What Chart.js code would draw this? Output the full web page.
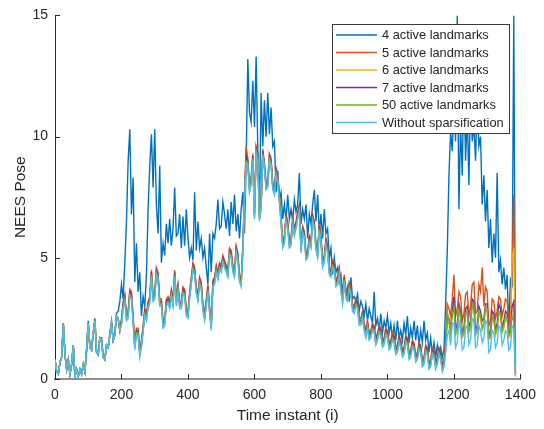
<!DOCTYPE html>
<html>
<head>
<meta charset="utf-8">
<script src="https://cdn.jsdelivr.net/npm/chart.js@4.4.0/dist/chart.umd.min.js"></script>
<style>
html,body{margin:0;padding:0;background:#fff;}
#c{display:block;}
</style>
</head>
<body>
<canvas id="c" width="544" height="429"></canvas>
<script>
const timeInstants = [
0,5,10,15,20,25,30,35,40,45,50,55,60,65,70,75,80,85,90,95,
100,105,110,115,120,125,130,135,140,145,150,155,160,165,170,175,180,185,190,195,
200,205,210,215,220,225,230,235,240,245,250,255,260,265,270,275,280,285,290,295,
300,305,310,315,320,325,330,335,340,345,350,355,360,365,370,375,380,385,390,395,
400,405,410,415,420,425,430,435,440,445,450,455,460,465,470,475,480,485,490,495,
500,505,510,515,520,525,530,535,540,545,550,555,560,565,570,575,580,585,590,595,
600,605,610,615,620,625,630,635,640,645,650,655,660,665,670,675,680,685,690,695,
700,705,710,715,720,725,730,735,740,745,750,755,760,765,770,775,780,785,790,795,
800,805,810,815,820,825,830,835,840,845,850,855,860,865,870,875,880,885,890,895,
900,905,910,915,920,925,930,935,940,945,950,955,960,965,970,975,980,985,990,995,
1000,1005,1010,1015,1020,1025,1030,1035,1040,1045,1050,1055,1060,1065,1070,1075,1080,1085,1090,1095,
1100,1105,1110,1115,1120,1125,1130,1135,1140,1145,1150,1155,1160,1165,1170,1175,1180,1185,1190,1195,
1200,1205,1210,1215,1220,1225,1230,1235,1240,1245,1250,1255,1260,1265,1270,1275,1280,1285,1290,1295,
1300,1305,1310,1315,1320,1325,1330,1335,1340,1345,1350,1355,1360,1365,1370,1375,1380,1385];

const active4 = [
0.8,0.3,0.2,0.7,0.9,2.3,1.0,0.4,0.8,0.2,0.6,1.4,0.1,0.4,0.1,0.4,0.2,0.6,0.3,1.2,
2.4,1.3,1.2,1.9,2.5,1.1,1.0,1.7,1.7,0.9,0.8,1.4,1.3,1.9,2.4,1.6,1.9,2.7,2.8,3.2,
3.9,3.3,4.8,6.5,9.0,10.3,6.8,8.3,4.0,5.6,3.6,4.4,2.6,3.4,3.0,4.3,7.0,8.8,10.1,7.9,
10.3,7.2,6.0,8.8,4.8,5.6,5.1,6.4,5.6,6.6,5.5,6.2,7.9,5.9,6.0,6.8,5.4,6.7,5.5,7.0,
5.8,5.0,5.4,4.9,7.7,5.3,6.5,5.4,5.8,5.0,5.4,4.6,3.9,6.0,4.4,6.0,5.8,6.4,7.4,6.2,
6.3,7.3,6.8,6.2,7.0,5.9,7.3,6.4,7.6,6.1,6.8,5.8,7.0,7.7,6.0,9.0,13.2,11.0,10.6,12.3,
10.4,13.3,9.5,6.8,11.8,9.6,11.5,10.0,11.8,10.1,11.2,9.6,9.8,7.7,8.6,7.4,7.7,6.6,7.2,6.5,
7.6,6.6,7.0,6.5,7.4,6.9,7.2,8.5,6.4,7.0,6.6,7.2,5.8,6.8,6.4,7.2,7.8,6.5,7.6,6.0,
6.8,5.8,7.0,6.0,6.2,5.0,5.4,4.3,5.0,4.4,4.6,4.0,4.3,3.6,4.1,3.5,3.8,3.2,4.2,3.3,
3.4,3.2,3.5,2.8,3.2,3.0,2.6,3.1,2.4,2.9,2.6,2.3,3.6,2.2,2.5,2.0,2.7,1.9,2.4,2.1,
2.6,1.9,2.3,1.7,2.2,1.6,2.4,1.7,2.0,1.6,2.3,1.8,2.6,1.5,2.1,1.7,2.4,1.6,2.2,1.4,
2.0,1.5,2.4,1.6,1.9,1.1,1.7,1.0,1.5,0.9,1.4,1.0,1.3,0.9,1.2,3.1,5.3,8.4,10.2,9.4,
11.4,9.8,15.0,7.0,10.5,8.4,12.5,9.0,11.0,8.0,12.0,9.8,10.5,9.0,11.5,9.6,10.0,7.2,8.4,6.5,
7.8,5.4,6.6,4.8,6.0,5.0,8.5,4.4,4.9,3.9,4.6,3.7,4.3,2.0,4.1,3.9,15.0,0.6];

const active5 = [
0.8,0.3,0.2,0.7,0.9,2.3,1.0,0.4,0.8,0.2,0.6,1.4,0.1,0.4,0.1,0.4,0.2,0.6,0.3,1.2,
2.3,1.3,1.2,1.9,2.4,1.1,1.0,1.7,1.6,0.9,0.8,1.4,1.3,1.8,2.3,1.6,1.8,2.6,2.5,2.0,
2.5,3.2,3.5,2.7,2.8,3.7,3.6,2.6,1.5,2.1,2.1,1.2,1.6,2.2,2.9,2.7,3.2,3.4,4.5,3.5,
3.6,4.6,4.4,3.3,3.3,2.4,2.5,3.3,3.4,3.2,3.7,3.3,4.5,3.3,3.9,3.2,3.2,3.8,3.7,2.9,
2.8,3.6,4.2,4.8,4.6,3.8,3.5,4.2,4.0,3.1,2.7,3.3,3.9,3.0,2.3,4.1,4.2,4.7,4.4,4.8,
4.7,5.1,4.9,4.7,4.5,5.4,5.3,4.7,4.5,5.5,5.2,4.3,4.1,5.5,7.7,9.6,9.1,8.0,8.3,9.3,
6.9,9.6,9.3,6.8,7.3,9.5,8.9,8.1,8.2,9.3,9.1,8.1,7.9,8.7,8.4,7.6,6.7,5.7,5.9,6.8,
6.5,5.7,5.8,6.7,6.2,6.5,6.9,7.2,5.5,6.3,6.1,5.2,5.3,5.9,5.7,6.8,6.5,5.6,5.3,6.4,
5.9,4.9,5.1,5.8,5.5,4.6,4.5,4.9,4.8,4.1,4.2,4.6,3.9,3.4,4.3,3.6,3.5,4.0,3.8,3.1,
3.0,3.3,3.2,2.5,2.5,2.8,2.3,2.0,2.4,1.9,2.0,2.3,2.2,1.7,1.9,2.2,2.1,1.6,1.7,2.1,
2.0,1.5,1.6,1.9,1.8,1.3,1.4,1.8,1.6,1.2,1.3,1.8,1.7,1.1,1.2,1.6,1.5,1.0,1.1,1.5,
1.4,0.8,0.9,1.4,1.3,0.7,0.8,1.3,1.2,0.7,0.9,1.3,1.1,0.6,0.8,1.6,3.1,2.9,2.6,3.3,
4.3,2.6,2.9,3.6,3.4,2.4,2.7,3.5,3.6,2.6,3.0,3.9,4.0,2.7,2.8,3.9,3.6,4.6,3.0,3.8,
3.6,2.2,2.4,3.3,3.2,2.5,2.8,3.4,3.3,2.6,2.9,3.3,3.2,2.4,2.6,4.5,7.6,0.3];

const active6 = [
0.8,0.3,0.2,0.7,0.9,2.3,1.0,0.4,0.8,0.2,0.6,1.4,0.1,0.4,0.1,0.4,0.2,0.6,0.3,1.2,
2.3,1.3,1.2,1.9,2.4,1.1,1.0,1.7,1.6,0.9,0.8,1.4,1.3,1.8,2.3,1.6,1.8,2.6,2.5,2.0,
2.3,3.0,3.3,2.5,2.6,3.5,3.4,2.4,1.3,1.9,1.9,1.0,1.4,2.0,2.7,2.5,3.0,3.2,4.3,3.3,
3.4,4.4,4.2,3.1,3.1,2.2,2.3,3.1,3.2,3.0,3.5,3.1,4.3,3.1,3.7,3.0,3.0,3.6,3.5,2.7,
2.6,3.4,4.0,4.6,4.4,3.6,3.3,4.0,3.8,2.9,2.5,3.1,3.7,2.8,2.1,3.9,4.0,4.5,4.2,4.6,
4.5,4.9,4.7,4.5,4.3,5.2,5.1,4.5,4.3,5.3,5.0,4.1,3.9,5.3,7.5,9.0,8.9,7.8,8.1,9.1,
6.7,9.4,9.1,6.6,7.1,9.3,8.7,7.9,8.0,9.1,8.9,7.9,7.7,8.5,8.2,7.4,6.5,5.5,5.7,6.6,
6.3,5.5,5.6,6.5,6.0,6.3,6.7,7.0,5.3,6.1,5.9,5.0,5.1,5.7,5.5,6.6,6.3,5.4,5.1,6.2,
5.7,4.7,4.9,5.6,5.3,4.4,4.3,4.7,4.6,3.9,4.0,4.4,3.7,3.2,4.1,3.4,3.3,3.8,3.6,2.9,
2.8,3.1,3.0,2.3,2.3,2.6,2.1,1.8,2.2,1.7,1.8,2.1,2.0,1.5,1.7,2.0,1.9,1.4,1.5,1.9,
1.8,1.3,1.4,1.7,1.6,1.1,1.2,1.6,1.4,1.0,1.1,1.6,1.5,0.9,1.0,1.4,1.3,0.8,0.9,1.3,
1.2,0.6,0.7,1.2,1.1,0.5,0.6,1.1,1.0,0.5,0.7,1.1,0.9,0.4,0.6,1.2,2.3,2.3,1.8,2.6,
2.9,1.8,2.0,2.8,2.5,1.7,1.8,2.6,2.7,1.9,2.1,3.0,2.9,1.8,1.9,2.7,2.5,2.0,2.2,2.9,
2.8,1.6,1.7,2.5,2.4,1.8,2.0,2.7,2.6,1.9,2.1,2.5,2.4,1.7,1.8,5.0,5.4,0.2];

const active7 = [
0.8,0.3,0.2,0.7,0.9,2.3,1.0,0.4,0.8,0.2,0.6,1.4,0.1,0.4,0.1,0.4,0.2,0.6,0.3,1.2,
2.3,1.3,1.2,1.9,2.4,1.1,1.0,1.7,1.6,0.9,0.8,1.4,1.3,1.8,2.3,1.6,1.8,2.6,2.5,2.0,
2.4,3.1,3.4,2.6,2.7,3.6,3.5,2.5,1.4,2.0,2.0,1.1,1.5,2.1,2.8,2.6,3.1,3.3,4.4,3.4,
3.5,4.5,4.3,3.2,3.2,2.3,2.4,3.2,3.3,3.1,3.6,3.2,4.4,3.2,3.8,3.1,3.1,3.7,3.6,2.8,
2.7,3.5,4.1,4.7,4.5,3.7,3.4,4.1,3.9,3.0,2.6,3.2,3.8,2.9,2.2,4.0,4.1,4.6,4.3,4.7,
4.6,5.0,4.8,4.6,4.4,5.3,5.2,4.6,4.4,5.4,5.1,4.2,4.0,5.4,7.6,9.2,9.0,7.9,8.2,9.2,
6.8,9.5,9.2,6.7,7.2,9.4,8.8,8.0,8.1,9.2,9.0,8.0,7.8,8.6,8.3,7.5,6.6,5.6,5.8,6.7,
6.4,5.6,5.7,6.6,6.1,6.4,6.8,7.1,5.4,6.2,6.0,5.1,5.2,5.8,5.6,6.7,6.4,5.5,5.2,6.3,
5.8,4.8,5.0,5.7,5.4,4.5,4.4,4.8,4.7,4.0,4.1,4.5,3.8,3.3,4.2,3.5,3.4,3.9,3.7,3.0,
2.9,3.2,3.1,2.4,2.4,2.7,2.2,1.9,2.3,1.8,1.9,2.2,2.1,1.6,1.8,2.1,2.0,1.5,1.6,2.0,
1.9,1.4,1.5,1.8,1.7,1.2,1.3,1.7,1.5,1.1,1.2,1.7,1.6,1.0,1.1,1.5,1.4,0.9,1.0,1.4,
1.3,0.7,0.8,1.3,1.2,0.6,0.7,1.2,1.1,0.6,0.8,1.2,1.0,0.5,0.7,1.4,2.6,2.5,2.1,2.8,
3.4,2.0,2.3,3.1,2.8,1.9,2.1,2.9,3.0,2.1,2.4,3.3,3.2,2.0,2.2,3.0,2.8,2.4,2.5,3.1,
3.1,1.8,2.0,2.8,2.7,2.0,2.3,3.1,2.9,2.1,2.4,2.8,2.7,1.9,2.0,3.0,3.2,0.2];

const active50 = [
0.8,0.3,0.2,0.7,0.9,2.3,1.0,0.4,0.8,0.2,0.6,1.4,0.1,0.4,0.1,0.4,0.2,0.6,0.3,1.2,
2.3,1.3,1.2,1.9,2.4,1.1,1.0,1.7,1.6,0.9,0.8,1.4,1.3,1.8,2.3,1.6,1.8,2.6,2.5,2.0,
2.3,3.0,3.3,2.5,2.6,3.5,3.4,2.4,1.3,1.9,1.9,1.0,1.4,2.0,2.7,2.5,3.0,3.2,4.3,3.3,
3.4,4.4,4.2,3.1,3.1,2.2,2.3,3.1,3.2,3.0,3.5,3.1,4.3,3.1,3.7,3.0,3.0,3.6,3.5,2.7,
2.6,3.4,4.0,4.6,4.4,3.6,3.3,4.0,3.8,2.9,2.5,3.1,3.7,2.8,2.1,3.9,4.0,4.5,4.2,4.6,
4.5,4.9,4.7,4.5,4.3,5.2,5.1,4.5,4.3,5.3,5.0,4.1,3.9,5.3,7.5,9.0,8.9,7.8,8.1,9.1,
6.7,9.4,9.1,6.6,7.1,9.3,8.7,7.9,8.0,9.1,8.9,7.9,7.7,8.5,8.2,7.4,6.5,5.5,5.7,6.6,
6.3,5.5,5.6,6.5,6.0,6.3,6.7,7.0,5.3,6.1,5.9,5.0,5.1,5.7,5.5,6.6,6.3,5.4,5.1,6.2,
5.7,4.7,4.9,5.6,5.3,4.4,4.3,4.7,4.6,3.9,4.0,4.4,3.7,3.2,4.1,3.4,3.3,3.8,3.6,2.9,
2.8,3.1,3.0,2.3,2.3,2.6,2.1,1.8,2.2,1.7,1.8,2.1,2.0,1.5,1.7,2.0,1.9,1.4,1.5,1.9,
1.8,1.3,1.4,1.7,1.6,1.1,1.2,1.6,1.4,1.0,1.1,1.6,1.5,0.9,1.0,1.4,1.3,0.8,0.9,1.3,
1.2,0.6,0.7,1.2,1.1,0.5,0.6,1.1,1.0,0.5,0.7,1.1,0.9,0.4,0.6,1.3,2.8,2.4,2.0,2.7,
3.0,1.9,2.1,2.9,2.6,1.8,1.9,2.7,2.8,2.0,2.2,3.1,3.0,1.9,2.0,2.8,2.6,2.1,2.3,3.0,
2.9,1.7,1.8,2.6,2.5,1.9,2.1,2.8,2.7,2.0,2.2,2.6,2.5,1.8,1.9,2.6,2.4,0.2];

const withoutSparsification = [
0.8,0.3,0.2,0.7,0.9,2.3,1.0,0.4,0.8,0.2,0.6,1.4,0.1,0.4,0.1,0.4,0.2,0.6,0.3,1.2,
2.3,1.3,1.2,1.9,2.4,1.1,1.0,1.7,1.6,0.9,0.8,1.4,1.3,1.8,2.3,1.6,1.8,2.6,2.5,2.0,
2.2,2.9,3.2,2.4,2.5,3.4,3.3,2.3,1.2,1.8,1.8,0.9,1.3,1.9,2.6,2.4,2.9,3.1,4.2,3.2,
3.3,4.3,4.1,3.0,3.0,2.1,2.2,3.0,3.1,2.9,3.4,3.0,4.2,3.0,3.6,2.9,2.9,3.5,3.4,2.6,
2.5,3.3,3.9,4.5,4.3,3.5,3.2,3.9,3.7,2.8,2.4,3.0,3.6,2.7,2.0,3.8,3.9,4.4,4.1,4.5,
4.4,4.8,4.6,4.4,4.2,5.1,5.0,4.4,4.2,5.2,4.9,4.0,3.8,5.2,7.4,8.9,8.8,7.7,8.0,9.0,
6.6,9.3,9.0,6.5,7.0,9.2,8.6,7.8,7.9,9.0,8.8,7.8,7.6,8.4,8.1,7.3,6.4,5.4,5.6,6.5,
6.2,5.4,5.5,6.4,5.9,6.2,6.6,6.9,5.2,6.0,5.8,4.9,5.0,5.6,5.4,6.5,6.2,5.3,5.0,6.1,
5.6,4.6,4.8,5.5,5.2,4.3,4.2,4.6,4.5,3.8,3.9,4.3,3.6,3.1,4.0,3.3,3.2,3.7,3.5,2.8,
2.7,3.0,2.9,2.2,2.2,2.5,2.0,1.7,2.1,1.6,1.7,2.0,1.9,1.4,1.6,1.9,1.8,1.3,1.4,1.8,
1.7,1.2,1.3,1.6,1.5,1.0,1.1,1.5,1.3,0.9,1.0,1.5,1.4,0.8,0.9,1.3,1.2,0.7,0.8,1.2,
1.1,0.5,0.6,1.1,1.0,0.4,0.5,1.0,0.9,0.4,0.6,1.0,0.8,0.3,0.5,1.1,1.8,2.0,1.4,2.3,
2.3,1.3,1.5,2.4,2.0,1.2,1.3,2.1,2.2,1.4,1.6,2.5,2.4,1.3,1.4,2.2,2.0,1.5,1.7,2.4,
2.3,1.1,1.2,2.0,1.9,1.3,1.5,2.2,2.1,1.4,1.6,2.0,1.9,1.2,1.3,2.2,2.1,0.1];

const seriesLabels = ['4 active landmarks','5 active landmarks','6 active landmarks','7 active landmarks','50 active landmarks','Without sparsification'];
const seriesColors = ['#0072BD','#D95319','#EDB120','#7E2F8E','#77AC30','#4DBEEE'];
const seriesValues = [active4, active5, active6, active7, active50, withoutSparsification];
const xTicks = [0,200,400,600,800,1000,1200,1400];
const yTicks = [0,5,10,15];

const FONT = '"Liberation Sans", Arial, Helvetica, sans-serif';
const TXT = '#262626';

const datasets = seriesValues.map((vals, i) => ({
  label: seriesLabels[i],
  data: vals.map((v, j) => ({x: timeInstants[j], y: v})),
  borderColor: seriesColors[i],
  backgroundColor: seriesColors[i],
  borderWidth: 1.4,
  pointRadius: 0,
  tension: 0,
  fill: false,
  order: seriesValues.length - i
}));

const overlay = {
  id: 'overlay',
  afterDraw(chart) {
    const ctx = chart.ctx;
    const xs = chart.scales.x, ys = chart.scales.y;
    const a = chart.chartArea;
    ctx.save();
    ctx.strokeStyle = TXT;
    ctx.lineWidth = 1;
    ctx.beginPath();
    xTicks.forEach(t => {
      const px = Math.round(xs.getPixelForValue(t)) + 0.5;
      ctx.moveTo(px, a.bottom);
      ctx.lineTo(px, a.bottom - 5);
    });
    yTicks.forEach(t => {
      const py = Math.round(ys.getPixelForValue(t)) + 0.5;
      ctx.moveTo(a.left, py);
      ctx.lineTo(a.left + 5, py);
    });
    ctx.stroke();

    // legend box (drawn over the data, as in the reference)
    const bx = 332.5, by = 24.5, bw = 177, bh = 109;
    ctx.fillStyle = '#ffffff';
    ctx.fillRect(bx, by, bw, bh);
    ctx.strokeStyle = '#3a3a3a';
    ctx.lineWidth = 1;
    ctx.strokeRect(bx, by, bw, bh);
    ctx.font = '12.8px ' + FONT;
    ctx.textBaseline = 'middle';
    ctx.textAlign = 'left';
    seriesLabels.forEach((lab, i) => {
      const yy = 35 + i * 17.5;
      ctx.strokeStyle = seriesColors[i];
      ctx.lineWidth = 1.3;
      ctx.beginPath();
      ctx.moveTo(336, yy);
      ctx.lineTo(377, yy);
      ctx.stroke();
      ctx.fillStyle = TXT;
      ctx.fillText(lab, 382, yy + 0.5);
    });
    ctx.restore();
  }
};

new Chart(document.getElementById('c'), {
  type: 'line',
  data: { datasets },
  plugins: [overlay],
  options: {
    responsive: false,
    animation: false,
    devicePixelRatio: 1,
    layout: { padding: { top: 12, right: 23, left: 0, bottom: 0 } },
    plugins: { legend: { display: false }, tooltip: { enabled: false }, title: { display: false } },
    scales: {
      x: {
        type: 'linear', min: 0, max: 1400,
        afterFit: s => { s.height = 50; },
        afterBuildTicks: s => { s.ticks = xTicks.map(v => ({value: v})); },
        grid: { display: false, drawTicks: false },
        border: { display: true, color: '#8f8f8f', width: 2 },
        ticks: { color: TXT, font: { family: FONT, size: 14 }, padding: 8, maxRotation: 0, autoSkip: false, callback: v => String(v) },
        title: { display: true, text: 'Time instant (i)', color: TXT, font: { family: FONT, size: 15.5 }, padding: { top: 0, bottom: 4 } }
      },
      y: {
        type: 'linear', min: 0, max: 15,
        afterFit: s => { s.width = 55; },
        afterBuildTicks: s => { s.ticks = yTicks.map(v => ({value: v})); },
        grid: { display: false, drawTicks: false },
        border: { display: true, color: TXT, width: 1 },
        ticks: { color: TXT, font: { family: FONT, size: 14 }, padding: 7, callback: v => String(v) },
        title: { display: true, text: 'NEES Pose', color: TXT, font: { family: FONT, size: 15.5 }, padding: { top: 11, bottom: 0 } }
      }
    }
  }
});
</script>
</body>
</html>
